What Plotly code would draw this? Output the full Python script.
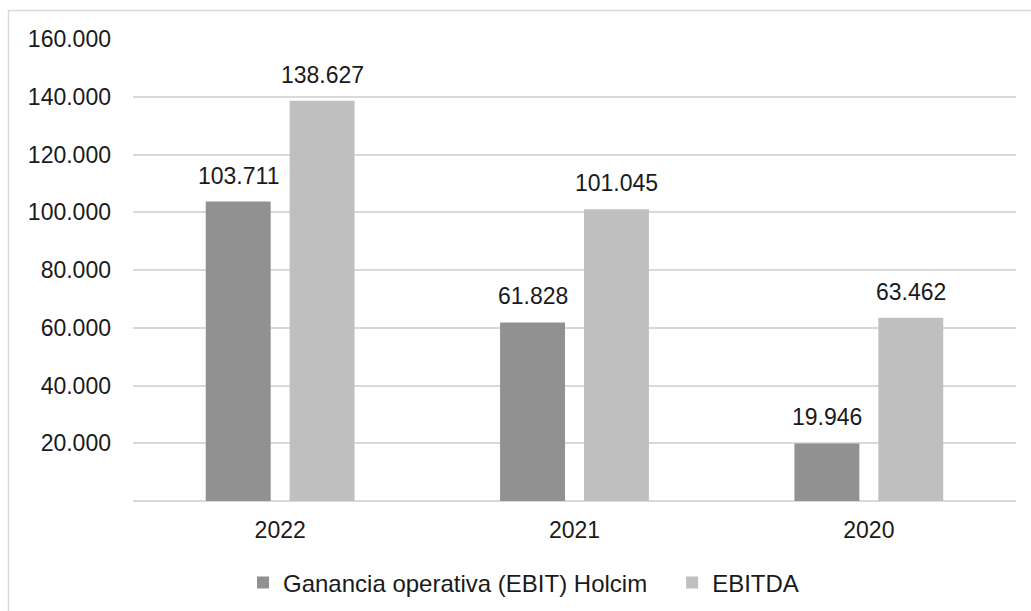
import plotly.graph_objects as go

years = ["2022", "2021", "2020"]
ebit = [103711, 61828, 19946]
ebitda = [138627, 101045, 63462]
y_ticks = [0, 20000, 40000, 60000, 80000, 100000, 120000, 140000, 160000]
y_tick_text = ["", "20.000", "40.000", "60.000", "80.000", "100.000", "120.000", "140.000", "160.000"]

FONT = "Liberation Sans, Arial, sans-serif"
TXT = "#1a1a1a"
FS = 23

W, H = 1031, 611
ml, mr, mt, mb = 133, 15, 39, 110
pw, ph = W - ml - mr, H - mt - mb

BARGAP, GROUPGAP = 0.43, 0.226
slot_px = pw / len(years) * (1 - BARGAP) / 2  # width of one bar slot in a group


def fmt(v):
    return f"{v:,.0f}".replace(",", ".")


def px_x(p):
    return (p - ml) / pw


def px_y(p):
    return (H - mb - p) / ph


fig = go.Figure()
fig.add_trace(go.Bar(
    name="Ganancia operativa (EBIT) Holcim\u00a0\u00a0\u00a0", x=years, y=ebit,
    marker=dict(color="#919191", line=dict(width=0)),
))
fig.add_trace(go.Bar(
    name="EBITDA", x=years, y=ebitda,
    marker=dict(color="#bfbfbf", line=dict(width=0)),
))

# value labels above each bar (category index used as x position)
annotations = []
for series, side in ((ebit, -1), (ebitda, 1)):
    for i, v in enumerate(series):
        annotations.append(dict(
            x=i, y=v, xref="x", yref="y", text=fmt(v), showarrow=False,
            xanchor="center", yanchor="bottom", xshift=side * slot_px / 2, yshift=11,
            font=dict(size=FS, color=TXT, family=FONT),
        ))

fig.update_layout(
    width=W, height=H,
    margin=dict(l=ml, r=mr, t=mt, b=mb, pad=0, autoexpand=False),
    paper_bgcolor="white", plot_bgcolor="white",
    separators=",.",
    font=dict(family=FONT, size=FS, color=TXT),
    barmode="group", bargap=BARGAP, bargroupgap=GROUPGAP,
    showlegend=True,
    legend=dict(orientation="h", x=px_x(243), xanchor="left",
                yref="container", y=(H - 583) / H, yanchor="middle",
                font=dict(size=24, color=TXT, family=FONT), traceorder="normal",
                itemwidth=30, bgcolor="rgba(0,0,0,0)"),
    xaxis=dict(type="category", showgrid=False, zeroline=False, showline=False, ticks="",
               tickfont=dict(size=FS, color=TXT), ticklabelstandoff=13, automargin=False),
    yaxis=dict(range=[0, 160000], tickvals=y_ticks, ticktext=y_tick_text,
               showgrid=True, gridcolor="#d9d9d9", gridwidth=1.5,
               zeroline=True, zerolinecolor="#d9d9d9", zerolinewidth=1.5,
               showline=False, ticks="", automargin=False,
               tickfont=dict(size=FS, color=TXT), ticklabelstandoff=21),
    annotations=annotations,
    shapes=[dict(type="rect", xref="paper", yref="paper",
                 x0=px_x(8.5), x1=px_x(1040), y0=px_y(620), y1=px_y(10.5),
                 line=dict(color="#d9d9d9", width=1.5), fillcolor="rgba(0,0,0,0)", layer="below")],
)

fig.write_html("out.html")
